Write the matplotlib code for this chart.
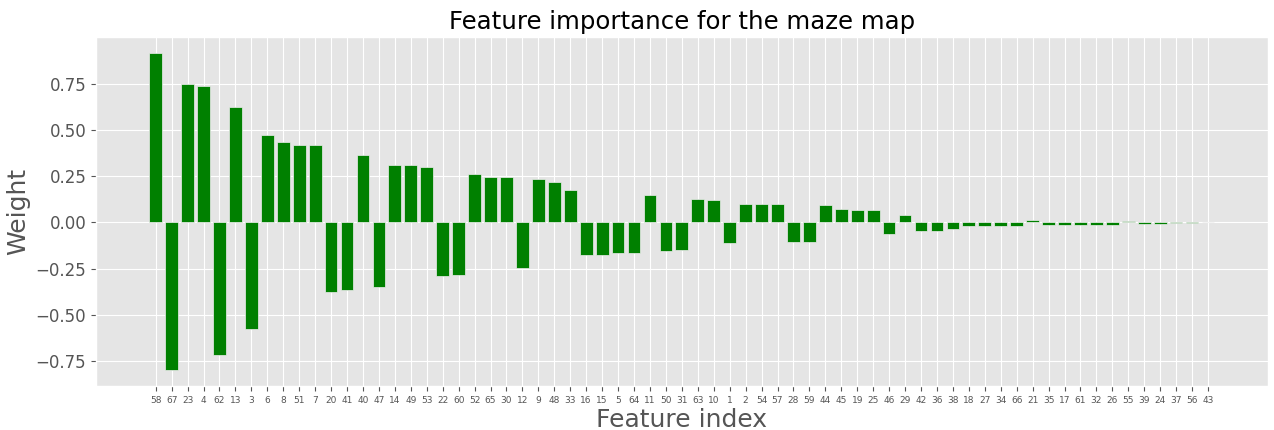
import matplotlib
matplotlib.use("Agg")
import matplotlib.pyplot as plt
import numpy as np

plt.style.use("ggplot")

features = ["58", "67", "23", "4", "62", "13", "3", "6", "8", "51",
            "7", "20", "41", "40", "47", "14", "49", "53", "22", "60",
            "52", "65", "30", "12", "9", "48", "33", "16", "15", "5",
            "64", "11", "50", "31", "63", "10", "1", "2", "54", "57",
            "28", "59", "44", "45", "19", "25", "46", "29", "42", "36",
            "38", "18", "27", "34", "66", "21", "35", "17", "61", "32",
            "26", "55", "39", "24", "37", "56", "43"]
weights = [0.917, -0.800, 0.750, 0.735, -0.720, 0.625, -0.577, 0.475, 0.437, 0.420,
           0.420, -0.378, -0.367, 0.362, -0.350, 0.313, 0.313, 0.302, -0.290, -0.286,
           0.264, 0.248, 0.248, -0.248, 0.232, 0.221, 0.173, -0.178, -0.178, -0.167,
           -0.167, 0.150, -0.155, -0.148, 0.124, 0.122, -0.110, 0.101, 0.101, 0.097,
           -0.104, -0.104, 0.092, 0.072, 0.065, 0.065, -0.065, 0.041, -0.049, -0.047,
           -0.034, -0.022, -0.022, -0.020, -0.020, 0.011, -0.016, -0.014, -0.013, -0.013,
           -0.013, 0.006, -0.008, -0.007, -0.006, -0.004, 0.001]

fig, ax = plt.subplots(figsize=(12.74, 4.30), dpi=100)
fig.subplots_adjust(left=0.0754, right=0.995, top=0.914, bottom=0.102)

x = np.arange(len(features))
ax.bar(x, weights, width=0.8, color="green", edgecolor="#EEEEEE", linewidth=0.5)
ax.set_xticks(x)
ax.set_xticklabels(features, fontsize=6.5)
ax.tick_params(axis="y", labelsize=12)
ax.set_title("Feature importance for the maze map", fontsize=17.6, color="black")
ax.set_xlabel("Feature index", fontsize=18, labelpad=2)
ax.set_ylabel("Weight", fontsize=18)
ax.set_yticks([-0.75, -0.5, -0.25, 0.0, 0.25, 0.5, 0.75])

fig.savefig("out.png", dpi=100)
